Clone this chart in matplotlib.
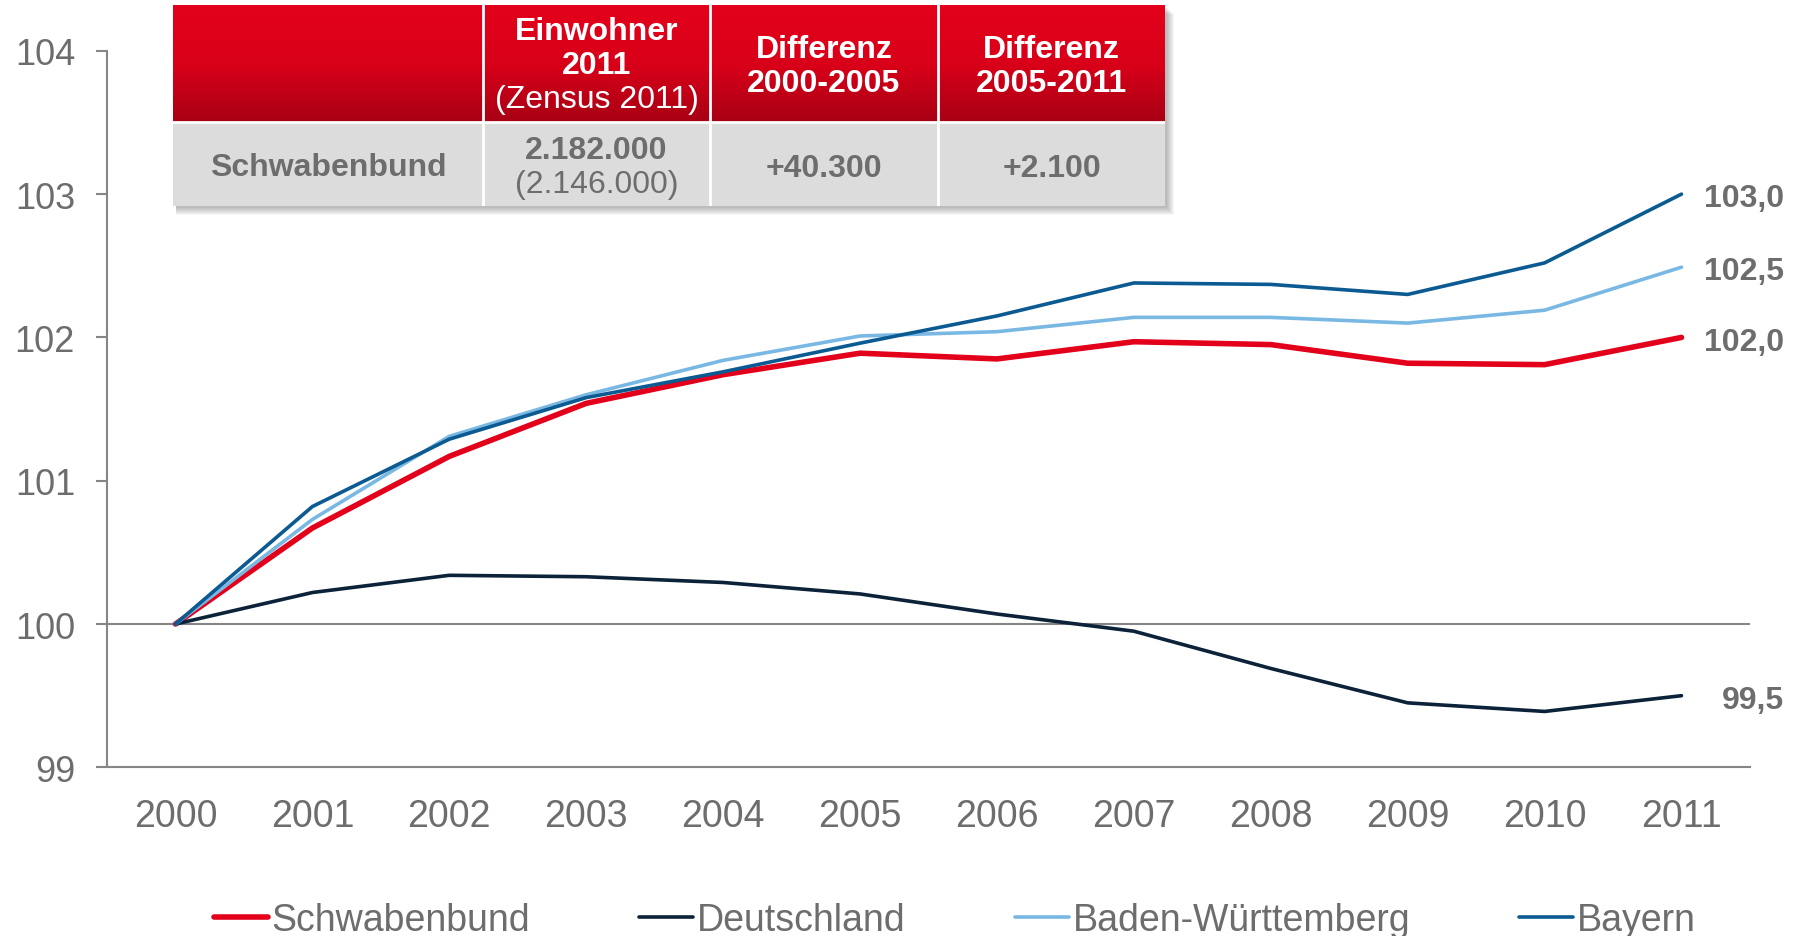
import matplotlib
matplotlib.use("Agg")
import matplotlib.pyplot as plt
import numpy as np
from matplotlib.colors import LinearSegmentedColormap
from matplotlib.patches import Rectangle

plt.rcParams['font.family'] = ['Liberation Sans', 'DejaVu Sans']

# Data (Index 2000 = 100)
years = ["2000", "2001", "2002", "2003", "2004", "2005",
         "2006", "2007", "2008", "2009", "2010", "2011"]
schwabenbund = [100.0, 100.67, 101.17, 101.54, 101.74, 101.89,
                101.85, 101.97, 101.95, 101.82, 101.81, 102.0]
deutschland = [100.0, 100.22, 100.34, 100.33, 100.29, 100.21,
               100.07, 99.95, 99.69, 99.45, 99.39, 99.5]
baden_wuerttemberg = [100.0, 100.73, 101.31, 101.60, 101.84, 102.01,
                      102.04, 102.14, 102.14, 102.10, 102.19, 102.49]
bayern = [100.0, 100.82, 101.29, 101.58, 101.76, 101.96,
          102.15, 102.38, 102.37, 102.30, 102.52, 103.0]
end_labels = ["102,0", "99,5", "102,5", "103,0"]

# Table contents
header_einwohner = ["Einwohner", "2011"]
header_zensus = "(Zensus 2011)"
header_diff = [["Differenz", "2000-2005"], ["Differenz", "2005-2011"]]
row_name = "Schwabenbund"
row_einwohner = "2.182.000"
row_zensus = "(2.146.000)"
row_diff = ["+40.300", "+2.100"]

GRAY = "#6d6d6d"
AXIS_GRAY = "#868686"

series = [
    ("Schwabenbund", schwabenbund, "#e2001a", 4.0),
    ("Deutschland", deutschland, "#0b2239", 2.6),
    ("Baden-Württemberg", baden_wuerttemberg, "#7ab8e4", 2.6),
    ("Bayern", bayern, "#0b5a91", 2.6),
]

fig = plt.figure(figsize=(18.05, 9.37), dpi=100)
ax = fig.add_axes([0.0593, 0.180, 0.9102, 0.7647])

x = np.arange(len(years))
ax.axhline(100, color=AXIS_GRAY, lw=1.5, zorder=1)

handles = []
for (name, vals, col, lw), lab in zip(series, end_labels):
    ln, = ax.plot(x, vals, color=col, lw=lw, solid_capstyle='round', zorder=3, label=name)
    handles.append(ln)
    ax.annotate(lab, (x[-1], vals[-1]), xytext=(74, -3), textcoords='offset points',
                ha='right', va='center', fontsize=23, fontweight='bold', color=GRAY)

ax.set_xlim(-0.5, 11.5)
ax.set_ylim(99, 104)
ax.set_xticks(x)
ax.set_xticklabels(years)
ax.set_yticks([99, 100, 101, 102, 103, 104])
ax.tick_params(axis='x', length=0, pad=22, labelsize=27, labelcolor=GRAY)
ax.tick_params(axis='y', length=8, width=1.5, color=AXIS_GRAY, pad=15,
               labelsize=26, labelcolor=GRAY)
for s in ['top', 'right']:
    ax.spines[s].set_visible(False)
for s in ['left', 'bottom']:
    ax.spines[s].set_color(AXIS_GRAY)
    ax.spines[s].set_linewidth(1.5)

# Legend
fig.legend(handles=handles, loc='center', bbox_to_anchor=(0.529, 0.017), ncol=4,
           frameon=False, fontsize=27, handlelength=1.45, handletextpad=0.1,
           columnspacing=2.9, labelcolor=GRAY)

# Table box (pixel layout)
W, H = 1805, 937
left, right, top, mid, bottom = 173, 1165, 6, 123, 207
cols = [173, 483, 710, 938, 1165]

# soft shadow (drawn beneath the table axes)
for i in range(8):
    off = 2 + i
    fig.patches.append(Rectangle(((left + 3) / W, 1 - (bottom + off) / H),
                                 (right - left + off - 3) / W, (bottom - top) / H,
                                 transform=fig.transFigure, facecolor='#000000',
                                 alpha=0.035, edgecolor='none', zorder=0))

tax = fig.add_axes([left / W, 1 - bottom / H, (right - left) / W, (bottom - top) / H])
tax.set_zorder(10)
tax.set_xlim(left, right)
tax.set_ylim(bottom, top)
tax.axis('off')

red_cmap = LinearSegmentedColormap.from_list("hdr", ["#e3001b", "#d90019", "#a80014"])
grad = np.linspace(0, 1, 200).reshape(-1, 1)
tax.imshow(grad, extent=[left, right, mid, top], cmap=red_cmap, aspect='auto',
           origin='upper', zorder=1)
tax.add_patch(Rectangle((left, mid), right - left, bottom - mid,
                        facecolor='#dcdcdc', edgecolor='none', zorder=1))
tax.axhline(mid, color='white', lw=2, zorder=2)
for cx in cols[1:-1]:
    tax.plot([cx, cx], [top, bottom], color='white', lw=2, zorder=2)

centers = [(cols[i] + cols[i + 1]) / 2 for i in range(4)]
FS = 23

# header text
for txt, yy in zip(header_einwohner, [32, 66]):
    tax.text(centers[1], yy, txt, ha='center', va='center', fontsize=FS,
             fontweight='bold', color='white', zorder=3)
tax.text(centers[1], 100, header_zensus, ha='center', va='center', fontsize=FS,
         color='white', zorder=3)
for i, lines in zip((2, 3), header_diff):
    for txt, yy in zip(lines, [50, 84]):
        tax.text(centers[i], yy, txt, ha='center', va='center', fontsize=FS,
                 fontweight='bold', color='white', zorder=3)

# row text
tax.text(centers[0], 168, row_name, ha='center', va='center', fontsize=FS,
         fontweight='bold', color=GRAY, zorder=3)
tax.text(centers[1], 151, row_einwohner, ha='center', va='center', fontsize=FS,
         fontweight='bold', color=GRAY, zorder=3)
tax.text(centers[1], 185, row_zensus, ha='center', va='center', fontsize=FS,
         color=GRAY, zorder=3)
for i, txt in zip((2, 3), row_diff):
    tax.text(centers[i], 169, txt, ha='center', va='center', fontsize=FS,
             fontweight='bold', color=GRAY, zorder=3)

fig.savefig("out.png", dpi=100)
